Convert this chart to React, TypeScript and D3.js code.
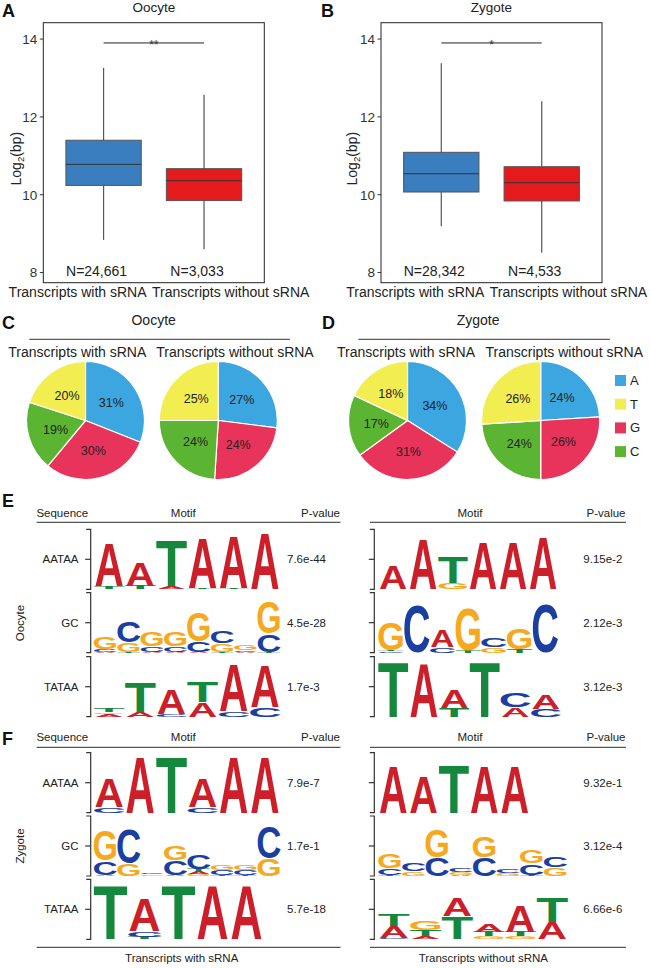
import React from "react";
import * as d3 from "d3";

// ---------------- DATA ----------------
const boxGroups = ["Transcripts with sRNA", "Transcripts without sRNA"];
const yTicks = [8, 10, 12, 14];
const oocyteBox = [
  { min: 8.84, q1: 10.24, median: 10.78, q3: 11.4, max: 13.26 },
  { min: 8.6, q1: 9.85, median: 10.36, q3: 10.67, max: 12.57 },
];
const zygoteBox = [
  { min: 9.19, q1: 10.07, median: 10.54, q3: 11.09, max: 13.38 },
  { min: 8.51, q1: 9.84, median: 10.31, q3: 10.72, max: 12.4 },
];
const oocyteN = ["N=24,661", "N=3,033"];
const zygoteN = ["N=28,342", "N=4,533"];
const oocyteSig = "**";
const zygoteSig = "*";

const legendBases = ["A", "T", "G", "C"];
const pieOrder = ["A", "G", "C", "T"];
const oocyteWithPct = { A: 31, G: 30, C: 19, T: 20 };
const oocyteWithoutPct = { A: 27, G: 24, C: 24, T: 25 };
const zygoteWithPct = { A: 34, G: 31, C: 17, T: 18 };
const zygoteWithoutPct = { A: 24, G: 26, C: 24, T: 26 };

const motifNames = ["AATAA", "GC", "TATAA"];
// each position: letters bottom -> top, letter + information (bits)
const oocyteWithLogos = [
  ["T0.10 A1.45", "T0.12 A0.80", "A0.10 T1.55", "T0.06 A1.67", "T0.04 A1.75", "A1.92"],
  ["A0.03 C0.07 G0.42", "T0.03 G0.30 C0.72", "A0.03 C0.19 G0.52", "A0.03 C0.19 G0.50", "A0.03 C0.35 G1.00", "T0.03 G0.28 C0.42", "A0.03 C0.06 G0.18", "T0.03 C0.60 G1.10"],
  ["A0.10 G0.05 T0.12", "A0.15 T1.00", "C0.08 A0.85", "A0.48 T0.70", "C0.20 A1.60", "C0.33 A1.42"],
];
const oocyteWithoutLogos = [
  ["A0.80", "A1.67", "G0.22 T0.90", "A1.60", "A1.60", "A1.75"],
  ["C0.05 T0.04 G0.95", "C1.65", "C0.20 A0.55", "T0.08 G1.45", "G0.18 C0.32", "T0.12 G0.75", "C1.67"],
  ["T1.85", "A1.80", "T0.30 A0.60", "T1.85", "A0.30 C0.50", "C0.27 A0.50"],
];
const zygoteWithLogos = [
  ["C0.20 A0.95", "A1.92", "T1.92", "C0.20 A0.95", "A1.92", "A1.92"],
  ["A0.04 C0.46 G1.05", "G0.42 C1.20", "G0.05 C0.06", "A0.04 C0.50 G0.50", "G0.08 A0.08 T0.08 C0.50", "T0.04 C0.16 G0.18", "T0.04 C0.16 G0.18", "G0.58 C1.10"],
  ["T1.80", "T0.08 C0.20 A1.10", "T1.80", "A1.80", "A1.80"],
];
const zygoteWithoutLogos = [
  ["A1.60", "A1.25", "T1.62", "A1.60", "A1.60"],
  ["T0.03 C0.22 G0.50", "G0.15 C0.28", "C0.63 G0.95", "A0.04 G0.10 C0.15", "C0.63 G0.72", "G0.10 C0.14", "T0.04 C0.38 G0.45", "G0.28 C0.38"],
  ["C0.05 A0.38 T0.40", "A0.10 T0.20 G0.30", "T0.77 A0.60", "G0.10 T0.15 A0.28", "G0.10 T0.15 A0.90", "A0.57 T0.83"],
];
const oocyteWithP = ["7.6e-44", "4.5e-28", "1.7e-3"];
const oocyteWithoutP = ["9.15e-2", "2.12e-3", "3.12e-3"];
const zygoteWithP = ["7.9e-7", "1.7e-1", "5.7e-18"];
const zygoteWithoutP = ["9.32e-1", "3.12e-4", "6.66e-6"];

// ---------------- STYLE ----------------
const FONT = '"Liberation Sans", Arial, Helvetica, sans-serif';
const pieColors = { A: "#3BA6DF", T: "#F2EE52", G: "#E8335A", C: "#5CB532" };
const boxColors = ["#3A7EBF", "#E41A1C"];
const logoColors = { A: "#CC1F2A", T: "#16883E", G: "#F6A81E", C: "#1B3FA0" };
// ink box of Liberation Sans Bold glyphs, in em
const METRICS = {
  A: { x0: 0.0, x1: 0.722, top: 0.716, bot: 0 },
  C: { x0: 0.046, x1: 0.676, top: 0.728, bot: -0.012 },
  G: { x0: 0.049, x1: 0.723, top: 0.728, bot: -0.012 },
  T: { x0: 0.022, x1: 0.589, top: 0.716, bot: 0 },
};

function parsePos(s: string) {
  return s.split(" ").map((t) => ({ letter: t[0], bits: +t.slice(1) }));
}

function BoxPanel({ x0, x1, y0, y1, title, stats, ns, sig, ylabX }: any) {
  const y = d3.scaleLinear().domain([7.74, 14.42]).range([y1, y0]);
  const x = d3.scaleLinear().domain([0.4, 2.6]).range([x0, x1]);
  const bw = x(1.375) - x(0.625);
  const cy = (y0 + y1) / 2 + 6;
  return (
    <g fontFamily={FONT}>
      <text x={(x0 + x1) / 2} y={12} textAnchor="middle" fontSize={13.5} fill="#222">{title}</text>
      {stats.map((s: any, i: number) => {
        const cx = x(i + 1);
        return (
          <g key={i}>
            <line x1={cx} x2={cx} y1={y(s.max)} y2={y(s.min)} stroke="#555" strokeWidth={1.2} />
            <rect x={cx - bw / 2} y={y(s.q3)} width={bw} height={y(s.q1) - y(s.q3)} fill={boxColors[i]} stroke="#555" strokeWidth={1} />
            <line x1={cx - bw / 2} x2={cx + bw / 2} y1={y(s.median)} y2={y(s.median)} stroke="#333" strokeWidth={1} />
            <text x={cx - 7} y={276} textAnchor="middle" fontSize={14} fill="#222">{ns[i]}</text>
          </g>
        );
      })}
      <line x1={x(1)} x2={x(2)} y1={y(13.9)} y2={y(13.9)} stroke="#222" strokeWidth={1} />
      <text x={(x(1) + x(2)) / 2} y={y(13.9) + 6.5} textAnchor="middle" fontSize={12} fill="#333">{sig}</text>
      <rect x={x0} y={y0} width={x1 - x0} height={y1 - y0} fill="none" stroke="#222" strokeWidth={1} />
      {yTicks.map((t) => (
        <g key={t}>
          <line x1={x0 - 3.5} x2={x0} y1={y(t)} y2={y(t)} stroke="#333" />
          <text x={x0 - 6} y={y(t) + 4.8} textAnchor="end" fontSize={13.5} fill="#333">{t}</text>
        </g>
      ))}
      <text transform={`translate(${ylabX},${cy}) rotate(-90)`} textAnchor="middle" fontSize={14} fill="#222">
        Log<tspan fontSize={9.5} dy={3}>2</tspan><tspan dy={-3}>(bp)</tspan>
      </text>
      <text x={x(1) + 43} y={297} textAnchor="end" fontSize={14} fill="#222">{boxGroups[0]}</text>
      <text x={x(2) - 52} y={297} textAnchor="start" fontSize={14} fill="#222">{boxGroups[1]}</text>
    </g>
  );
}

function Pie({ cx, cy, r, pct }: any) {
  const data = pieOrder.map((k) => ({ k, v: pct[k] }));
  const arcs = d3.pie<any>().sort(null).value((d) => d.v).startAngle(0).endAngle(2 * Math.PI)(data);
  const arc = d3.arc<any>().innerRadius(0).outerRadius(r);
  const lab = d3.arc<any>().innerRadius(r * 0.53).outerRadius(r * 0.53);
  return (
    <g transform={`translate(${cx},${cy})`}>
      {arcs.map((a, i) => (
        <path key={i} d={arc(a) as string} fill={pieColors[a.data.k]} stroke="#fff" strokeWidth={1.2} />
      ))}
      {arcs.map((a, i) => {
        const [lx, ly] = lab.centroid(a);
        return (
          <text key={"t" + i} x={lx} y={ly + 4.3} textAnchor="middle" fontSize={12.5} fontFamily={FONT} fill="#222">
            {a.data.v}%
          </text>
        );
      })}
    </g>
  );
}

function PiePanel({ x1, x2, cxA, cxB, cy, title, pctA, pctB, subA, subB }: any) {
  return (
    <g fontFamily={FONT} fill="#222">
      <text x={(x1 + x2) / 2 - 6} y={325} textAnchor="middle" fontSize={14}>{title}</text>
      <line x1={x1} x2={x2} y1={339.3} y2={339.3} stroke="#333" strokeWidth={1} />
      <text x={subA} y={356.5} textAnchor="middle" fontSize={14}>{boxGroups[0]}</text>
      <text x={subB} y={356.5} textAnchor="middle" fontSize={14}>{boxGroups[1]}</text>
      <Pie cx={cxA} cy={cy} r={59} pct={pctA} />
      <Pie cx={cxB} cy={cy} r={59} pct={pctB} />
    </g>
  );
}

function Logo({ x, yTop, width, positions }: any) {
  const h = 60;
  const bits = d3.scaleLinear().domain([0, 2]).range([yTop + h, yTop]);
  const xb = d3.scaleBand<number>().domain(d3.range(positions.length)).range([x, x + width]).paddingInner(0.06).paddingOuter(0.03);
  const out: any[] = [];
  positions.forEach((p: string, i: number) => {
    let acc = 0;
    parsePos(p).forEach((l, j) => {
      const m = (METRICS as any)[l.letter];
      const yb = bits(acc);
      const yt = bits(acc + l.bits);
      acc += l.bits;
      const lw = xb.bandwidth();
      const lh = yb - yt;
      const sx = lw / (100 * (m.x1 - m.x0));
      const sy = lh / (100 * (m.top - m.bot));
      out.push(
        <text
          key={i + "-" + j}
          transform={`translate(${xb(i)},${yb}) scale(${sx},${sy}) translate(${-100 * m.x0},${100 * m.bot})`}
          fontSize={100}
          fontWeight="bold"
          fontFamily={FONT}
          fill={(logoColors as any)[l.letter]}
        >
          {l.letter}
        </text>
      );
    });
  });
  return <g>{out}</g>;
}

function Bracket({ x, yTop }: any) {
  const h = 60;
  const path = `M${x - 4.5},${yTop} H${x} V${yTop + h} H${x - 4.5}`;
  return (
    <g stroke="#333" strokeWidth={1.2} fill="none">
      <path d={path} />
      <line x1={x - 5.5} x2={x} y1={yTop + h / 2} y2={yTop + h / 2} />
    </g>
  );
}

function MotifSection({ headerY, lineY, rowTops, left, right, pLeft, pRight, stage, showBottom }: any) {
  const LX = 93.5;
  const RX = 378;
  return (
    <g fontFamily={FONT} fill="#222">
      <text x={62.3} y={headerY} textAnchor="middle" fontSize={11.5}>Sequence</text>
      <text x={183.3} y={headerY} textAnchor="middle" fontSize={11.5}>Motif</text>
      <text x={320.5} y={headerY} textAnchor="middle" fontSize={11.5}>P-value</text>
      <text x={470} y={headerY} textAnchor="middle" fontSize={11.5}>Motif</text>
      <text x={606} y={headerY} textAnchor="middle" fontSize={11.5}>P-value</text>
      <line x1={36.7} x2={340.5} y1={lineY} y2={lineY} stroke="#555" strokeWidth={1.3} />
      <line x1={370} x2={626} y1={lineY} y2={lineY} stroke="#555" strokeWidth={1.3} />
      <text transform={`translate(23.5,${(rowTops[0] + rowTops[2] + 60) / 2}) rotate(-90)`} textAnchor="middle" fontSize={11.5}>
        {stage}
      </text>
      {motifNames.map((name, i) => (
        <g key={name}>
          <text x={78.5} y={rowTops[i] + 34} textAnchor="end" fontSize={11.5}>{name}</text>
          <Bracket x={90.7} yTop={rowTops[i]} />
          <Bracket x={374.3} yTop={rowTops[i]} />
          <Logo x={LX} yTop={rowTops[i]} width={left.widths[i]} positions={left.data[i]} />
          <Logo x={RX} yTop={rowTops[i]} width={right.widths[i]} positions={right.data[i]} />
          <text x={287} y={rowTops[i] + 34} fontSize={11.5}>{pLeft[i]}</text>
          <text x={583.3} y={rowTops[i] + 34} fontSize={11.5}>{pRight[i]}</text>
        </g>
      ))}
      {showBottom && (
        <g>
          <line x1={36.7} x2={340.5} y1={947.3} y2={947.3} stroke="#555" strokeWidth={1.3} />
          <line x1={370} x2={626} y1={947.3} y2={947.3} stroke="#555" strokeWidth={1.3} />
          <text x={181.7} y={962} textAnchor="middle" fontSize={11.5}>{boxGroups[0]}</text>
          <text x={483.3} y={962} textAnchor="middle" fontSize={11.5}>{boxGroups[1]}</text>
        </g>
      )}
    </g>
  );
}

export default function App() {
  return (
    <svg width={650} height={968} style={{ position: "absolute", left: 0, top: 0, display: "block" }}>
      <rect x={0} y={0} width={650} height={968} fill="#fff" />
      <g fontFamily={FONT} fontWeight="bold" fontSize={18} fill="#111">
        <text x={2} y={17}>A</text>
        <text x={321} y={17}>B</text>
        <text x={2} y={328.5}>C</text>
        <text x={322} y={328.5}>D</text>
        <text x={2} y={507}>E</text>
        <text x={2} y={744.5}>F</text>
      </g>
      <BoxPanel x0={43.3} x1={264.3} y0={22.7} y1={282.7} title="Oocyte" stats={oocyteBox} ns={oocyteN} sig={oocyteSig} ylabX={20.5} />
      <BoxPanel x0={381} x1={602} y0={22.7} y1={282.7} title="Zygote" stats={zygoteBox} ns={zygoteN} sig={zygoteSig} ylabX={357} />
      <PiePanel x1={29.3} x2={290} cxA={85.5} cxB={218.3} cy={420.5} title="Oocyte" pctA={oocyteWithPct} pctB={oocyteWithoutPct} subA={77.3} subB={235} />
      <PiePanel x1={358.3} x2={610} cxA={407.5} cxB={540.7} cy={420.5} title="Zygote" pctA={zygoteWithPct} pctB={zygoteWithoutPct} subA={406} subB={564.3} />
      <g fontFamily={FONT}>
        {legendBases.map((b, i) => (
          <g key={b}>
            <rect x={615} y={375 + i * 23.7} width={11} height={11} fill={pieColors[b]} />
            <text x={630} y={385 + i * 23.7} fontSize={13} fill="#222">{b}</text>
          </g>
        ))}
      </g>
      <MotifSection
        headerY={516.5}
        lineY={522.3}
        rowTops={[529.3, 592.7, 656.7]}
        left={{ data: oocyteWithLogos, widths: [187, 187, 187] }}
        right={{ data: oocyteWithoutLogos, widths: [180, 180, 183] }}
        pLeft={oocyteWithP}
        pRight={oocyteWithoutP}
        stage="Oocyte"
        showBottom={false}
      />
      <MotifSection
        headerY={740.5}
        lineY={747.3}
        rowTops={[752.7, 816, 879.3]}
        left={{ data: zygoteWithLogos, widths: [187, 187, 170] }}
        right={{ data: zygoteWithoutLogos, widths: [152, 189, 190] }}
        pLeft={zygoteWithP}
        pRight={zygoteWithoutP}
        stage="Zygote"
        showBottom={true}
      />
    </svg>
  );
}
